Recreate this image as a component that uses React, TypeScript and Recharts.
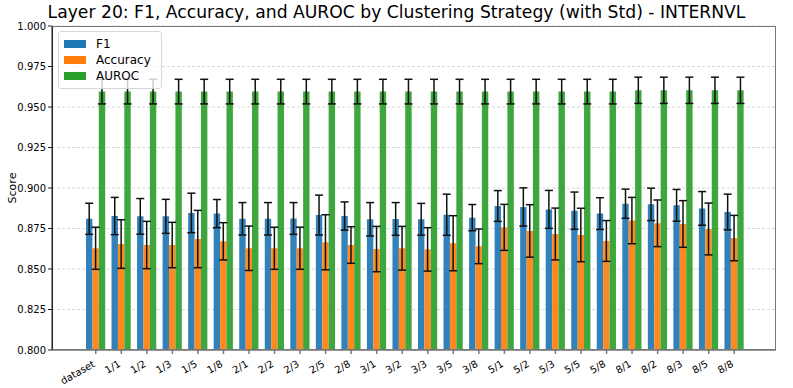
import { Bar, BarChart, CartesianGrid, ErrorBar, XAxis, YAxis } from 'recharts';

const categories = [
  'dataset', '1/1', '1/2', '1/3', '1/5', '1/8', '2/1', '2/2', '2/3', '2/5', '2/8', '3/1', '3/2',
  '3/3', '3/5', '3/8', '5/1', '5/2', '5/3', '5/5', '5/8', '8/1', '8/2', '8/3', '8/5', '8/8',
];
const f1 = [
  0.881, 0.8827, 0.8825, 0.8825, 0.8846, 0.8842, 0.881, 0.881, 0.8812, 0.8833, 0.8827, 0.8807, 0.8809,
  0.8807, 0.8835, 0.8817, 0.8889, 0.8883, 0.8868, 0.886, 0.8842, 0.8903, 0.8899, 0.8893, 0.8874, 0.8852,
];
const f1Std = [
  0.0096, 0.0115, 0.011, 0.0105, 0.0122, 0.0087, 0.01, 0.01, 0.0098, 0.0123, 0.0087, 0.0103, 0.0101,
  0.0098, 0.0127, 0.0081, 0.0095, 0.0118, 0.0117, 0.0115, 0.0098, 0.009, 0.01, 0.0098, 0.0104, 0.011,
];
const accuracy = [
  0.8628, 0.8654, 0.8648, 0.8648, 0.8685, 0.8671, 0.8628, 0.8628, 0.8628, 0.8665, 0.8648, 0.8623, 0.8628,
  0.8621, 0.8659, 0.864, 0.8757, 0.8735, 0.8716, 0.871, 0.8673, 0.8799, 0.8782, 0.8778, 0.8747, 0.8691,
];
const accuracyStd = [
  0.013, 0.015, 0.0146, 0.014, 0.0177, 0.0115, 0.0137, 0.013, 0.013, 0.017, 0.0113, 0.014, 0.0135,
  0.0134, 0.017, 0.0107, 0.0142, 0.0162, 0.016, 0.0165, 0.0126, 0.0143, 0.0144, 0.0144, 0.016, 0.014,
];
const auroc = [
  0.9595, 0.9595, 0.9595, 0.9595, 0.9595, 0.9595, 0.9595, 0.9595, 0.9595, 0.9595, 0.9595, 0.9595, 0.9595,
  0.9595, 0.9595, 0.9595, 0.9595, 0.9595, 0.9595, 0.9595, 0.9595, 0.9603, 0.9603, 0.9603, 0.9603, 0.9603,
];
const aurocStd = [
  0.0076, 0.0076, 0.0076, 0.0076, 0.0076, 0.0076, 0.0076, 0.0076, 0.0076, 0.0076, 0.0076, 0.0076, 0.0076,
  0.0076, 0.0076, 0.0076, 0.0076, 0.0076, 0.0076, 0.0076, 0.0076, 0.0081, 0.0081, 0.0081, 0.0081, 0.0081,
];
const yTicks = [0.8, 0.825, 0.85, 0.875, 0.9, 0.925, 0.95, 0.975, 1.0];

const series = [
  { key: 'f1', name: 'F1', color: '#1f77b4' },
  { key: 'accuracy', name: 'Accuracy', color: '#ff7f0e' },
  { key: 'auroc', name: 'AUROC', color: '#2ca02c' },
];

const FONT = '"DejaVu Sans", sans-serif';

const data = categories.map((c, i) => ({
  c,
  f1: f1[i],
  f1Std: f1Std[i],
  accuracy: accuracy[i],
  accuracyStd: accuracyStd[i],
  auroc: auroc[i],
  aurocStd: aurocStd[i],
}));

function XTick({ x, y, payload }: any) {
  return (
    <g transform={`translate(${x - 4},${y + 3})`}>
      <text textAnchor="end" transform="rotate(-30)" dy={8} fontSize={10} fontFamily={FONT} fill="#000">
        {payload.value}
      </text>
    </g>
  );
}

export default function App() {
  return (
    <div style={{ position: 'absolute', left: 0, top: 0, width: 793, height: 388, background: '#fff', fontFamily: FONT }}>
      <div style={{ position: 'absolute', top: 2, left: 0, width: 793, textAlign: 'center', fontSize: 17.2, color: '#000', whiteSpace: 'nowrap' }}>
        Layer 20: F1, Accuracy, and AUROC by Clustering Strategy (with Std) - INTERNVL
      </div>
      <div
        style={{
          position: 'absolute', left: 12, top: 188, fontSize: 11, transform: 'translate(-50%, -50%) rotate(-90deg)',
        }}
      >
        Score
      </div>
      <BarChart
        width={793}
        height={388}
        data={data}
        margin={{ top: 26, right: 17, bottom: 0, left: 0 }}
        barGap={0}
        barSize={6.4}
      >
        <CartesianGrid vertical={false} stroke="#d8d8d8" strokeDasharray="3 2" />
        <XAxis
          dataKey="c"
          interval={0}
          tick={<XTick />}
          height={38}
          padding={{ left: 31, right: 29 }}
          stroke="#777"
          strokeWidth={1.5}
          tickSize={4}
        />
        <YAxis
          domain={[0.8, 1.0]}
          ticks={yTicks}
          allowDataOverflow
          width={52}
          tickFormatter={(v: number) => v.toFixed(3)}
          tick={{ fontSize: 10, fontFamily: FONT, fill: '#000' }}
          tickSize={4}
          stroke="#222"
        />
        {series.map((s) => (
          <Bar key={s.key} dataKey={s.key} name={s.name} fill={s.color} fillOpacity={0.92} isAnimationActive={false}>
            <ErrorBar dataKey={`${s.key}Std`} width={4} stroke="#111" strokeWidth={1.5} direction="y" />
          </Bar>
        ))}
      </BarChart>
      <div
        style={{
          position: 'absolute', left: 52, top: 26, width: 724, height: 324, border: '1px solid #777',
          borderLeft: '1px solid #222', boxSizing: 'border-box', pointerEvents: 'none',
        }}
      />
      <div
        style={{
          position: 'absolute', left: 58, top: 31, padding: '4px 10px 4px 5px', border: '1px solid #d6d6d6',
          borderRadius: 3, background: 'rgba(255,255,255,0.8)', fontSize: 12,
        }}
      >
        {series.map((s) => (
          <div key={s.key} style={{ display: 'flex', alignItems: 'center', height: 16 }}>
            <span style={{ display: 'inline-block', width: 22, height: 8, background: s.color, marginRight: 10 }} />
            <span>{s.name}</span>
          </div>
        ))}
      </div>
    </div>
  );
}
